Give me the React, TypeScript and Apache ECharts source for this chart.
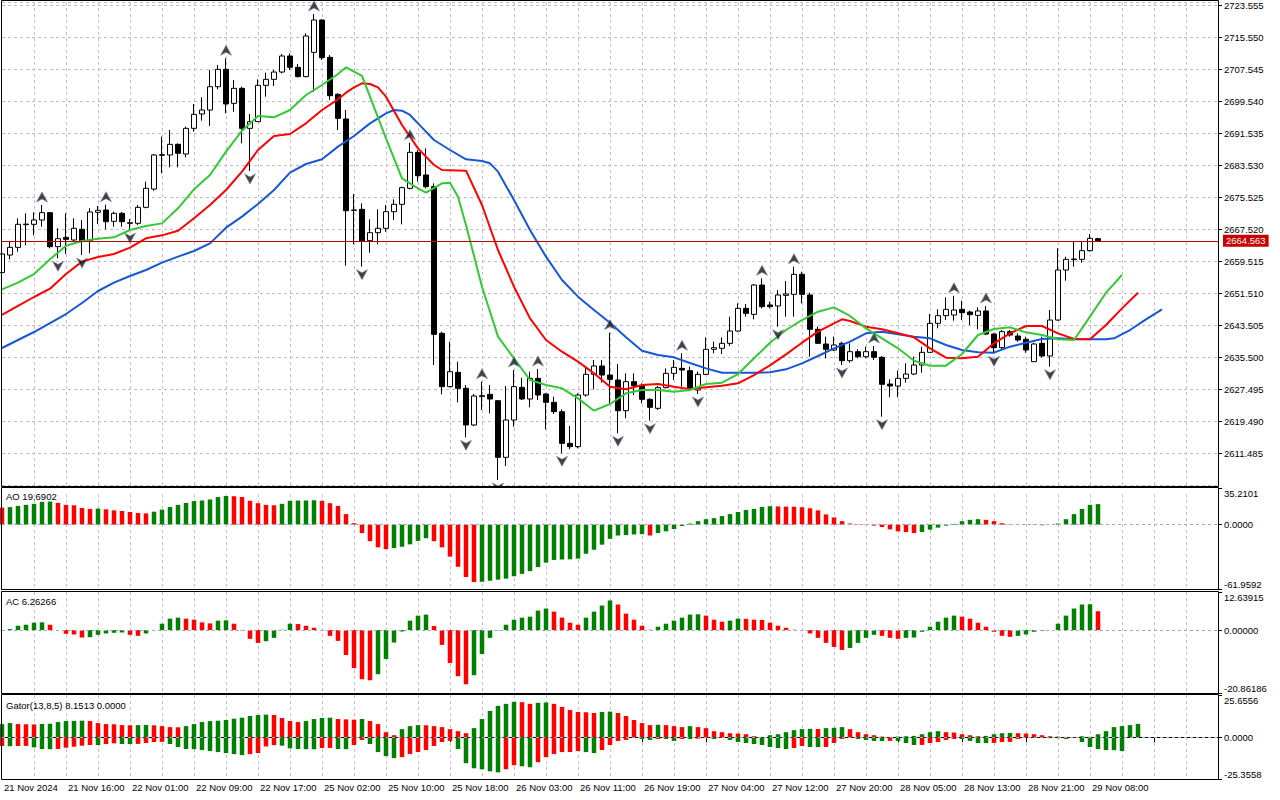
import React, { useEffect, useRef } from "react";
import * as echarts from "echarts";

// ---------- time axis ----------
const tickLabels = [
  "21 Nov 2024", "21 Nov 16:00", "22 Nov 01:00", "22 Nov 09:00", "22 Nov 17:00",
  "25 Nov 02:00", "25 Nov 10:00", "25 Nov 18:00", "26 Nov 03:00", "26 Nov 11:00",
  "26 Nov 19:00", "27 Nov 04:00", "27 Nov 12:00", "27 Nov 20:00", "28 Nov 05:00",
  "28 Nov 13:00", "28 Nov 21:00", "29 Nov 08:00",
];
const slotCount = 153; // bars + right shift area

// ---------- price axis ----------
const priceTickBase = 2611.485;
const priceTickStep = 8.005;
const priceTop = 2724.305;
const lastPrice = 2664.563;

// ---------- candles (H1 XAUUSD) ----------
const opens = [
  2656.60, 2661.01, 2662.93, 2668.60, 2668.69, 2669.77, 2671.61, 2663.10, 2665.43, 2664.77,
  2667.44, 2664.60, 2671.69, 2672.27, 2669.44, 2671.44, 2668.94, 2668.94, 2672.94, 2677.52,
  2685.95, 2686.03, 2688.70, 2686.28, 2692.70, 2696.29, 2697.29, 2703.12, 2707.46, 2698.96,
  2702.71, 2692.70, 2694.37, 2703.46, 2704.96, 2706.79, 2710.80, 2707.96, 2705.63, 2711.71,
  2719.80, 2710.46, 2701.21, 2695.04, 2672.27, 2672.44, 2664.60, 2666.60, 2667.69, 2671.85,
  2673.69, 2677.69, 2686.70, 2681.03, 2678.11, 2641.42, 2628.08, 2631.66, 2627.66, 2618.49,
  2625.58, 2626.16, 2624.57, 2610.40, 2619.74, 2627.91, 2624.99, 2630.16, 2626.24, 2624.16,
  2621.82, 2613.90, 2613.07, 2625.99, 2631.16, 2633.25, 2630.99, 2629.74, 2622.07, 2629.33,
  2628.33, 2624.91, 2622.66, 2627.83, 2631.41, 2632.66, 2632.08, 2627.24, 2631.16, 2637.42,
  2637.67, 2638.92, 2642.00, 2647.67, 2646.17, 2653.51, 2648.51, 2648.26, 2650.92, 2651.17,
  2656.18, 2651.01, 2642.42, 2638.75, 2637.25, 2638.92, 2634.58, 2636.83, 2635.58, 2636.83,
  2635.42, 2628.74, 2628.24, 2630.16, 2631.24, 2633.50, 2636.67, 2643.92, 2645.84, 2646.00,
  2647.42, 2646.76, 2645.92, 2647.01, 2641.25, 2637.83, 2641.84, 2640.75, 2639.92, 2634.33,
  2638.92, 2635.75, 2644.75, 2657.26, 2659.85, 2659.93, 2662.10, 2665.10,
];
const highs = [
  2662.50, 2664.43, 2670.19, 2671.44, 2671.69, 2673.52, 2671.70, 2667.69, 2671.44, 2670.19,
  2669.77, 2672.69, 2673.27, 2673.60, 2671.86, 2671.77, 2670.02, 2673.52, 2679.36, 2686.28,
  2690.62, 2692.28, 2688.95, 2693.12, 2698.79, 2700.46, 2707.29, 2708.55, 2710.21, 2704.79,
  2703.12, 2696.29, 2704.96, 2706.63, 2707.29, 2711.30, 2711.46, 2708.80, 2716.47, 2721.30,
  2719.97, 2711.05, 2701.46, 2697.29, 2676.28, 2673.94, 2669.94, 2672.44, 2673.52, 2674.94,
  2678.11, 2689.12, 2687.28, 2687.70, 2678.94, 2641.84, 2639.34, 2634.33, 2628.49, 2626.24,
  2629.33, 2628.49, 2624.74, 2628.24, 2632.25, 2630.33, 2631.83, 2632.50, 2626.41, 2625.58,
  2622.41, 2618.24, 2626.41, 2633.08, 2634.75, 2634.75, 2641.59, 2633.75, 2631.41, 2631.41,
  2628.91, 2625.16, 2628.24, 2632.66, 2634.75, 2636.41, 2633.08, 2631.83, 2640.42, 2639.34,
  2640.42, 2645.59, 2648.92, 2648.76, 2653.76, 2655.18, 2649.34, 2652.26, 2654.51, 2658.10,
  2656.85, 2651.59, 2643.09, 2640.59, 2640.59, 2639.34, 2638.92, 2637.42, 2638.08, 2638.25,
  2635.75, 2629.91, 2632.08, 2633.91, 2635.58, 2638.08, 2646.25, 2647.42, 2650.42, 2650.80,
  2649.59, 2647.09, 2647.92, 2648.26, 2641.42, 2642.25, 2642.25, 2641.42, 2640.59, 2639.08,
  2640.59, 2647.25, 2662.68, 2660.60, 2664.35, 2664.35, 2666.27, 2665.27,
];
const lows = [
  2655.00, 2659.93, 2661.85, 2663.43, 2665.93, 2668.10, 2662.68, 2660.18, 2661.26, 2664.35,
  2661.01, 2661.43, 2668.77, 2667.44, 2668.10, 2668.10, 2667.27, 2668.52, 2672.69, 2677.11,
  2681.44, 2682.95, 2682.95, 2685.45, 2691.87, 2694.62, 2693.28, 2702.46, 2696.45, 2696.87,
  2688.95, 2682.03, 2694.29, 2700.62, 2703.29, 2706.46, 2707.29, 2705.46, 2705.50, 2701.87,
  2709.80, 2699.79, 2692.28, 2658.35, 2663.68, 2658.10, 2661.60, 2663.68, 2666.85, 2669.77,
  2668.69, 2677.44, 2679.36, 2677.69, 2633.50, 2626.16, 2627.91, 2624.16, 2615.40, 2618.24,
  2622.24, 2621.41, 2604.73, 2608.23, 2618.07, 2624.74, 2622.91, 2624.74, 2617.40, 2621.24,
  2611.40, 2612.40, 2612.65, 2625.58, 2627.41, 2629.08, 2623.91, 2616.40, 2620.16, 2625.99,
  2623.91, 2619.57, 2622.24, 2627.66, 2629.74, 2628.08, 2627.24, 2626.24, 2630.99, 2636.42,
  2636.25, 2638.25, 2641.84, 2645.59, 2644.92, 2647.67, 2647.67, 2643.09, 2645.59, 2645.59,
  2648.92, 2635.58, 2638.75, 2635.17, 2637.08, 2633.50, 2634.08, 2635.17, 2635.17, 2634.75,
  2620.57, 2625.41, 2625.41, 2629.08, 2630.99, 2631.58, 2636.58, 2642.67, 2644.75, 2644.59,
  2644.75, 2643.50, 2642.42, 2641.00, 2636.42, 2637.25, 2640.59, 2639.34, 2636.58, 2634.25,
  2635.42, 2633.08, 2644.59, 2654.59, 2658.10, 2659.10, 2661.85, 2664.52,
];
const closes = [
  2661.27, 2662.93, 2668.69, 2668.75, 2669.77, 2671.61, 2663.10, 2665.10, 2664.93, 2667.69,
  2664.60, 2671.77, 2672.19, 2669.35, 2671.44, 2669.35, 2669.10, 2672.94, 2677.69, 2686.03,
  2686.11, 2688.70, 2686.45, 2692.70, 2696.20, 2697.29, 2703.12, 2707.46, 2698.79, 2702.71,
  2692.70, 2694.37, 2703.46, 2704.96, 2706.79, 2710.80, 2707.96, 2705.63, 2715.80, 2719.80,
  2710.38, 2700.87, 2695.20, 2672.10, 2672.19, 2664.52, 2666.60, 2667.69, 2671.85, 2673.69,
  2677.86, 2686.70, 2680.86, 2678.11, 2641.17, 2628.08, 2631.83, 2627.66, 2618.49, 2625.74,
  2625.83, 2624.99, 2610.40, 2619.74, 2628.08, 2624.99, 2630.16, 2625.99, 2624.16, 2621.82,
  2613.90, 2613.07, 2625.99, 2631.16, 2633.25, 2630.99, 2629.91, 2622.07, 2629.33, 2628.33,
  2624.91, 2622.91, 2627.83, 2631.41, 2632.91, 2632.25, 2627.41, 2631.16, 2637.42, 2637.83,
  2638.92, 2642.00, 2647.67, 2646.42, 2653.51, 2648.09, 2648.09, 2651.01, 2651.26, 2656.18,
  2651.17, 2642.42, 2638.92, 2637.42, 2638.50, 2634.58, 2636.83, 2635.58, 2636.83, 2635.42,
  2628.66, 2628.24, 2630.16, 2631.24, 2633.50, 2636.67, 2643.92, 2645.84, 2647.42, 2647.25,
  2646.59, 2646.09, 2647.01, 2641.25, 2637.83, 2641.84, 2641.00, 2639.75, 2637.25, 2638.75,
  2635.75, 2644.75, 2657.26, 2659.93, 2660.01, 2662.10, 2665.18, 2664.563,
];

const jawIdx = [0, 2, 4, 6, 8, 10, 12, 14, 16, 18, 20, 22, 24, 26, 28, 30, 32, 34, 36, 38, 40, 42, 44, 46, 48, 49, 50, 51, 52, 54, 56, 58, 60, 61, 62, 64, 66, 68, 70, 72, 74, 76, 78, 80, 82, 84, 86, 88, 90, 92, 94, 96, 98, 100, 102, 104, 106, 108, 110, 112, 114, 116, 118, 120, 122, 124, 126, 128, 130, 132, 134, 136, 138, 139, 141, 143, 145];
const jawVal = [2637.75, 2639.75, 2641.75, 2644.00, 2646.25, 2649.00, 2652.01, 2654.09, 2655.76, 2657.26, 2659.10, 2660.60, 2662.01, 2663.93, 2667.85, 2670.61, 2673.77, 2677.27, 2681.61, 2683.78, 2684.95, 2688.12, 2690.78, 2693.95, 2696.45, 2697.29, 2697.12, 2696.04, 2693.95, 2689.78, 2687.28, 2684.95, 2684.53, 2683.95, 2681.86, 2674.77, 2667.27, 2660.60, 2654.76, 2650.59, 2647.25, 2644.09, 2640.42, 2637.08, 2635.99, 2635.41, 2634.00, 2632.66, 2631.58, 2631.58, 2631.58, 2631.66, 2632.41, 2633.91, 2635.75, 2637.67, 2639.34, 2641.42, 2641.84, 2641.17, 2640.59, 2640.17, 2638.50, 2637.25, 2636.67, 2636.58, 2638.08, 2639.08, 2640.00, 2640.17, 2639.92, 2639.92, 2639.92, 2640.17, 2642.25, 2644.92, 2647.42];

const teethIdx = [0, 2, 4, 6, 8, 10, 12, 14, 16, 18, 20, 22, 24, 26, 28, 30, 32, 34, 36, 38, 40, 42, 43, 44, 45, 46, 47, 48, 50, 52, 54, 55, 58, 60, 62, 64, 66, 68, 70, 72, 74, 76, 78, 80, 82, 84, 86, 88, 90, 92, 94, 96, 98, 100, 102, 104, 105, 106, 108, 110, 112, 114, 116, 118, 120, 122, 124, 126, 128, 130, 132, 134, 136, 138, 140, 142];
const teethVal = [2646.01, 2648.26, 2650.51, 2652.59, 2656.26, 2659.35, 2660.51, 2661.26, 2662.85, 2665.18, 2665.93, 2667.10, 2670.19, 2673.52, 2677.27, 2681.86, 2687.28, 2690.78, 2691.28, 2693.95, 2697.29, 2699.96, 2701.62, 2702.96, 2703.96, 2703.79, 2702.96, 2700.62, 2693.53, 2687.70, 2683.53, 2682.28, 2682.11, 2673.52, 2662.27, 2653.09, 2645.17, 2639.75, 2636.83, 2634.33, 2631.41, 2628.08, 2627.41, 2628.49, 2628.74, 2628.08, 2627.41, 2627.91, 2628.33, 2628.91, 2630.99, 2633.41, 2636.17, 2639.08, 2641.84, 2643.92, 2644.92, 2644.50, 2643.09, 2642.42, 2641.42, 2640.42, 2637.67, 2635.33, 2635.17, 2635.58, 2638.92, 2641.42, 2643.25, 2643.25, 2641.42, 2640.00, 2639.92, 2643.50, 2647.67, 2651.59];

const lipsIdx = [0, 2, 4, 6, 8, 10, 12, 14, 16, 18, 20, 22, 24, 26, 28, 30, 32, 34, 36, 38, 40, 42, 43, 45, 46, 48, 50, 52, 53, 55, 56, 57, 58, 60, 62, 64, 66, 68, 70, 72, 74, 76, 78, 80, 82, 84, 86, 88, 90, 92, 94, 96, 98, 100, 102, 104, 106, 108, 110, 112, 114, 116, 118, 120, 122, 124, 126, 128, 130, 132, 134, 136, 138, 140];
const lipsVal = [2652.43, 2654.09, 2656.26, 2659.93, 2663.35, 2664.52, 2665.10, 2665.43, 2667.27, 2668.27, 2668.93, 2672.69, 2677.44, 2681.03, 2686.86, 2692.12, 2695.79, 2695.45, 2697.29, 2701.04, 2703.54, 2706.29, 2707.96, 2705.80, 2700.62, 2690.20, 2680.19, 2677.69, 2676.61, 2678.94, 2679.11, 2675.61, 2668.52, 2653.09, 2640.59, 2635.17, 2629.74, 2628.49, 2627.66, 2625.16, 2622.07, 2623.74, 2626.41, 2627.24, 2627.24, 2626.83, 2627.24, 2628.74, 2629.08, 2631.24, 2635.17, 2639.08, 2642.25, 2644.75, 2646.84, 2647.92, 2645.76, 2642.67, 2640.17, 2637.67, 2634.58, 2633.33, 2633.33, 2636.25, 2641.00, 2642.50, 2642.92, 2641.67, 2641.00, 2639.92, 2639.75, 2645.59, 2651.59, 2656.01];

// ---------- Fractals ----------
const fractalUpBars = [5, 13, 28, 39, 51, 60, 64, 67, 76, 85, 95, 99, 109, 119, 123];
const fractalDownBars = [7, 10, 16, 31, 45, 58, 62, 70, 77, 81, 87, 97, 105, 110, 124, 131];

// ---------- Awesome Oscillator ----------
const aoValues = [
  16.4, 16.8, 18.0, 19.0, 20.0, 21.9, 22.2, 20.9, 19.0, 18.6,
  16.0, 15.1, 15.4, 14.7, 13.7, 13.1, 12.1, 11.1, 10.8, 12.4,
  14.4, 17.0, 19.0, 20.9, 22.6, 23.2, 24.2, 26.5, 27.5, 27.3,
  26.5, 22.9, 20.6, 19.0, 18.6, 20.0, 22.9, 23.1, 23.2, 23.4,
  22.9, 20.6, 18.0, 10.1, 1.3, -8.2, -16.0, -21.9, -23.6, -22.6,
  -21.3, -19.0, -15.7, -13.1, -16.0, -21.9, -30.8, -40.6, -50.4, -55.3,
  -55.0, -54.0, -53.0, -52.0, -49.7, -47.4, -44.8, -40.9, -36.6, -34.0,
  -33.6, -33.4, -32.7, -28.1, -24.2, -19.3, -13.7, -10.5, -10.1, -9.5,
  -9.2, -10.5, -8.2, -6.5, -4.3, -1.3, 1.0, 3.3, 5.2, 6.2,
  8.2, 10.1, 12.1, 14.1, 15.1, 17.0, 17.7, 17.5, 17.3, 17.2,
  16.7, 15.7, 13.7, 9.8, 6.9, 3.3, 1.0, 0.3, -0.3, -1.0,
  -2.3, -4.6, -6.5, -7.2, -8.2, -7.2, -4.9, -2.9, -1.0, 0.65,
  3.3, 4.6, 5.2, 4.6, 3.3, 1.3, 0.3, -0.1, -0.2, -0.3,
  -0.65, 0.0, 1.0, 5.2, 10.1, 15.1, 19.0, 19.6902,
];
const aoAxis = [-61.9592, 0, 35.2101];

// ---------- Accelerator Oscillator ----------
const acValues = [
  -0.11, 0.34, 1.45, 1.79, 2.46, 2.57, 1.79, 0.0, -1.23, -1.45,
  -2.46, -2.35, -1.56, -1.12, -0.89, -0.78, -1.56, -1.90, -1.12, 0.0,
  2.12, 3.80, 4.13, 3.80, 3.46, 2.57, 2.23, 3.13, 3.24, 2.12,
  -0.11, -2.90, -4.24, -3.69, -2.57, 0.11, 2.12, 2.01, 1.45, 0.78,
  -0.11, -1.90, -3.57, -8.26, -12.62, -16.30, -16.64, -14.63, -9.60, -4.13,
  -0.45, 3.13, 4.80, 5.14, 1.34, -4.91, -10.94, -15.30, -17.98, -14.96,
  -7.93, -2.57, -0.11, 1.79, 3.46, 4.13, 4.47, 6.48, 7.15, 6.14,
  4.13, 2.46, 1.79, 4.13, 6.14, 8.15, 9.83, 8.49, 5.47, 3.46,
  1.45, 0.11, 1.12, 2.12, 3.13, 4.13, 5.14, 5.25, 4.80, 3.46,
  2.79, 3.13, 3.80, 3.74, 3.46, 3.35, 2.46, 1.45, 0.78, 0.11,
  -0.06, -1.12, -2.57, -4.24, -5.58, -6.59, -5.92, -4.24, -2.57, -1.56,
  -1.90, -2.57, -2.90, -2.57, -2.46, -0.56, 1.12, 2.79, 4.13, 4.80,
  4.47, 3.80, 2.46, 1.12, -0.56, -1.90, -2.23, -1.90, -1.45, -0.56,
  -0.22, 0.0, 2.12, 4.80, 7.15, 8.49, 8.60, 6.26266,
];
const acAxis = [-20.86186, 0, 12.63915];

// ---------- Gator Oscillator ----------
const gatorUpper = [
  7.99, 8.60, 7.99, 7.89, 7.78, 8.09, 8.19, 9.22, 9.83, 9.94,
  10.04, 9.83, 8.60, 7.99, 7.89, 7.37, 7.27, 7.37, 7.48, 7.27,
  6.76, 6.15, 6.04, 6.76, 7.99, 9.22, 9.83, 10.04, 10.45, 11.27,
  11.88, 12.91, 13.52, 13.73, 13.52, 11.68, 9.83, 9.22, 9.83, 11.06,
  11.68, 11.88, 11.06, 10.86, 10.65, 11.06, 9.83, 7.99, 3.07, 1.23,
  4.92, 6.76, 7.37, 7.27, 6.76, 6.15, 4.92, 3.69, 2.46, 5.53,
  11.06, 15.98, 19.05, 20.28, 21.51, 21.31, 20.28, 20.90, 21.10, 20.28,
  18.44, 16.59, 15.36, 15.16, 14.75, 15.36, 15.57, 14.75, 12.91, 10.45,
  8.60, 7.37, 7.58, 7.37, 6.76, 6.15, 6.76, 6.15, 5.53, 3.69,
  3.07, 2.46, 2.25, 1.84, 0.61, 0.20, 1.23, 1.84, 3.07, 4.30,
  4.92, 5.12, 5.02, 5.53, 5.74, 6.15, 4.92, 3.07, 1.84, 1.23,
  0.40, 0.20, 0.41, 0.61, 0.82, 1.84, 3.07, 3.69, 3.07, 2.87,
  1.84, 1.23, 0.61, 0.82, 1.84, 2.46, 2.66, 2.46, 2.25, 1.84,
  1.23, 0.61, 0.41, 0.20, 0.10, 0.60, 0.30, 1.84, 3.69, 6.15,
  6.76, 7.37, 8.1513,
];
const gatorLower = [
  -5.33, -5.43, -5.33, -5.25, -6.15, -7.17, -7.27, -7.10, -6.35, -5.74,
  -5.12, -4.71, -4.75, -4.10, -3.69, -4.10, -4.15, -4.05, -3.48, -2.87,
  -2.80, -4.10, -5.94, -7.17, -7.25, -7.78, -8.40, -9.01, -9.63, -10.24,
  -10.86, -10.24, -9.63, -5.60, -4.80, -5.12, -6.76, -7.17, -7.25, -7.30,
  -6.56, -6.50, -7.17, -7.25, -4.71, -1.64, -4.10, -9.01, -11.47, -12.70,
  -12.09, -10.24, -9.01, -7.78, -5.33, -2.87, -2.25, -7.17, -15.77, -18.85,
  -19.46, -20.69, -21.31, -19.46, -17.00, -17.62, -18.23, -15.16, -12.09, -10.24,
  -9.01, -8.95, -8.40, -9.01, -9.63, -7.78, -4.71, -2.25, -1.64, -0.20,
  -1.02, -1.64, -1.02, -1.10, -2.25, -1.02, -1.10, -0.82, -0.41, -1.02,
  -0.41, -1.64, -2.87, -3.48, -4.10, -4.71, -5.94, -6.56, -7.17, -6.56,
  -5.33, -5.94, -6.00, -5.90, -3.48, -1.02, -0.41, -1.02, -1.64, -2.25,
  -2.30, -2.20, -2.25, -3.48, -4.71, -4.65, -3.48, -2.87, -1.64, -1.02,
  -1.10, -2.25, -3.48, -3.55, -3.45, -2.87, -2.80, -1.02, -0.41, -0.45,
  -0.50, -0.55, -0.60, -1.02, -0.20, -2.87, -5.94, -7.17, -7.78, -7.85,
  -8.40,
];
const gatorAxis = [-25.3558, 0, 25.6556];

// ---------- styling ----------
const FONT = '"Liberation Sans", Arial, sans-serif';
const GREEN = "#008000";
const RED = "#ff0000";
const GRID_LINE = "#c2bcc8";

function risingFlags(vals: number[], first: boolean, useAbs: boolean): boolean[] {
  return vals.map((v, i) => {
    if (i === 0) return first;
    const a = useAbs ? Math.abs(v) : v;
    const p = useAbs ? Math.abs(vals[i - 1]) : vals[i - 1];
    return a > p;
  });
}

function coloredBars(vals: number[], first: boolean, useAbs: boolean) {
  const flags = risingFlags(vals, first, useAbs);
  return vals.map((v, i) => ({ value: v, itemStyle: { color: flags[i] ? GREEN : RED } }));
}

function buildOption() {
  const cats = Array.from({ length: slotCount }, (_, i) =>
    i % 8 === 0 && tickLabels[i / 8] ? tickLabels[i / 8] : ""
  );
  const gridW = 8 * (slotCount - 1);
  const grids = [
    { left: 2, top: 2, width: gridW, height: 483 },
    { left: 2, top: 488, width: gridW, height: 101 },
    { left: 2, top: 592, width: gridW, height: 101 },
    { left: 2, top: 695, width: gridW, height: 84 },
  ];
  const vSplit = {
    show: true,
    interval: (i: number) => i % 4 === 0 && i > 0,
    lineStyle: { color: GRID_LINE, type: [3, 3], width: 1 },
  };
  const xAxes = grids.map((_, gi) => {
    const bottom = gi === 3;
    return {
      type: "category",
      gridIndex: gi,
      data: cats,
      boundaryGap: false,
      axisLine: { show: bottom, lineStyle: { color: "#000", width: 1 } },
      axisTick: {
        show: bottom,
        interval: (i: number) => i % 8 === 0,
        length: 5,
        lineStyle: { color: "#000" },
      },
      axisLabel: {
        show: bottom,
        interval: (i: number) => i % 8 === 0,
        align: "left",
        margin: 3,
        padding: [0, 0, 0, 2],
        fontSize: 9.5,
        fontFamily: FONT,
        color: "#000",
      },
      splitLine: vSplit,
    };
  });

  const indicatorAxis = (gi: number, ax: number[], dec: number) => ({
    type: "value",
    gridIndex: gi,
    position: "right",
    min: ax[0],
    max: ax[2],
    axisLine: { show: false },
    axisTick: { show: true, customValues: ax, length: 4, lineStyle: { color: "#000" } },
    axisLabel: {
      customValues: ax,
      formatter: (v: number) => v.toFixed(dec),
      margin: 6,
      fontSize: 9.5,
      fontFamily: FONT,
      color: "#000",
      verticalAlignMinLabel: "bottom",
      verticalAlignMaxLabel: "top",
    },
    splitLine: { show: false },
  });

  const yAxes = [
    {
      type: "value",
      gridIndex: 0,
      position: "right",
      min: -priceTickStep,
      max: priceTop - priceTickBase,
      interval: priceTickStep,
      axisLine: { show: false },
      axisTick: { show: true, length: 4, lineStyle: { color: "#000" } },
      axisLabel: {
        showMinLabel: false,
        showMaxLabel: false,
        formatter: (v: number) => (v + priceTickBase).toFixed(3),
        margin: 6,
        fontSize: 9.5,
        fontFamily: FONT,
        color: "#000",
      },
      splitLine: { show: true, lineStyle: { color: GRID_LINE, type: [3, 3], width: 1 } },
    },
    indicatorAxis(1, aoAxis, 4),
    indicatorAxis(2, acAxis, 5),
    indicatorAxis(3, gatorAxis, 4),
  ];

  const rel = (p: number) => p - priceTickBase;
  const candles = opens.map((o, i) => [rel(o), rel(closes[i]), rel(lows[i]), rel(highs[i])]);
  const linePairs = (idx: number[], val: number[]) => idx.map((x, k) => [x, rel(val[k])]);

  const zeroLine = {
    silent: true,
    symbol: "none",
    label: { show: false },
    lineStyle: { color: "#a3a8c0", type: [3, 3], width: 1 },
    data: [{ yAxis: 0 }],
  };

  const upArrow = "path://M5.5,0 L11,10 L5.5,7 L0,10 Z";
  const downArrow = "path://M0,0 L5.5,3 L11,0 L5.5,10 Z";
  const arrowStyle = { color: "#141414", borderColor: "#6f7fa3", borderWidth: 0.7 };

  const series: any[] = [
    {
      type: "candlestick",
      xAxisIndex: 0,
      yAxisIndex: 0,
      data: candles,
      barWidth: 5,
      z: 2,
      itemStyle: {
        color: "#ffffff",
        color0: "#000000",
        borderColor: "#000000",
        borderColor0: "#000000",
        borderWidth: 1,
      },
      markLine: {
        silent: true,
        symbol: "none",
        lineStyle: { color: "#c00000", type: "solid", width: 1 },
        label: {
          show: true,
          position: "end",
          distance: 5,
          formatter: () => lastPrice.toFixed(3),
          backgroundColor: "#c80000",
          color: "#ffffff",
          padding: [1, 3, 1, 3],
          fontSize: 9.5,
          fontFamily: FONT,
        },
        data: [{ yAxis: rel(lastPrice) }],
      },
    },
    {
      type: "line",
      xAxisIndex: 0,
      yAxisIndex: 0,
      data: linePairs(jawIdx, jawVal),
      showSymbol: false,
      z: 3,
      lineStyle: { color: "#1657d8", width: 2 },
    },
    {
      type: "line",
      xAxisIndex: 0,
      yAxisIndex: 0,
      data: linePairs(teethIdx, teethVal),
      showSymbol: false,
      z: 3,
      lineStyle: { color: "#ff0000", width: 2 },
    },
    {
      type: "line",
      xAxisIndex: 0,
      yAxisIndex: 0,
      data: linePairs(lipsIdx, lipsVal),
      showSymbol: false,
      z: 3,
      lineStyle: { color: "#34c934", width: 2 },
    },
    {
      type: "scatter",
      xAxisIndex: 0,
      yAxisIndex: 0,
      data: fractalUpBars.map((b) => [b, rel(highs[b])]),
      symbol: upArrow,
      symbolSize: [11, 10],
      symbolOffset: [0, -8],
      z: 4,
      itemStyle: arrowStyle,
    },
    {
      type: "scatter",
      xAxisIndex: 0,
      yAxisIndex: 0,
      data: fractalDownBars.map((b) => [b, rel(lows[b])]),
      symbol: downArrow,
      symbolSize: [11, 10],
      symbolOffset: [0, 8],
      z: 4,
      itemStyle: arrowStyle,
    },
    {
      type: "bar",
      xAxisIndex: 1,
      yAxisIndex: 1,
      data: coloredBars(aoValues, false, false),
      barWidth: 4.5,
      markLine: zeroLine,
    },
    {
      type: "bar",
      xAxisIndex: 2,
      yAxisIndex: 2,
      data: coloredBars(acValues, false, false),
      barWidth: 4.5,
      markLine: zeroLine,
    },
    {
      type: "bar",
      xAxisIndex: 3,
      yAxisIndex: 3,
      data: coloredBars(gatorUpper, true, true),
      barWidth: 4.5,
      barGap: "-100%",
      markLine: zeroLine,
    },
    {
      type: "bar",
      xAxisIndex: 3,
      yAxisIndex: 3,
      data: coloredBars(gatorLower, false, true),
      barWidth: 4.5,
      barGap: "-100%",
    },
  ];

  const frame = (y: number, h: number) => ({
    type: "rect",
    z: 100,
    silent: true,
    shape: { x: 1.5, y, width: 1217, height: h },
    style: { fill: "none", stroke: "#000", lineWidth: 1 },
  });
  const title = (text: string, y: number) => ({
    type: "text",
    z: 100,
    silent: true,
    x: 6,
    y,
    style: { text, fill: "#000", fontSize: 9.5, fontFamily: FONT, verticalAlign: "middle" },
  });

  const aoLast = aoValues[aoValues.length - 1];
  const acLast = acValues[acValues.length - 1];
  const gUpLast = gatorUpper[gatorUpper.length - 1];

  return {
    animation: false,
    backgroundColor: "#ffffff",
    grid: grids,
    xAxis: xAxes,
    yAxis: yAxes,
    series,
    graphic: [
      // white strip hiding fractal marks that spill below the price panel
      {
        type: "rect",
        z: 99,
        silent: true,
        shape: { x: 1.5, y: 486, width: 1217, height: 8.5 },
        style: { fill: "#ffffff" },
      },
      frame(0.5, 486),
      frame(487.5, 102),
      frame(591.5, 102),
      frame(694.5, 85),
      title(`AO ${aoLast.toFixed(4)}`, 496),
      title(`AC ${acLast.toFixed(5)}`, 601),
      title(`Gator(13,8,5) ${gUpLast.toFixed(4)} ${(0).toFixed(4)}`, 705),
    ],
  };
}

export default function App() {
  const ref = useRef<HTMLDivElement>(null);
  useEffect(() => {
    if (!ref.current) return;
    const chart = echarts.init(ref.current, null, { renderer: "svg" });
    chart.setOption(buildOption() as any);
    return () => chart.dispose();
  }, []);
  return (
    <div
      ref={ref}
      style={{ position: "fixed", left: 0, top: 0, width: 1280, height: 800, background: "#fff" }}
    />
  );
}
